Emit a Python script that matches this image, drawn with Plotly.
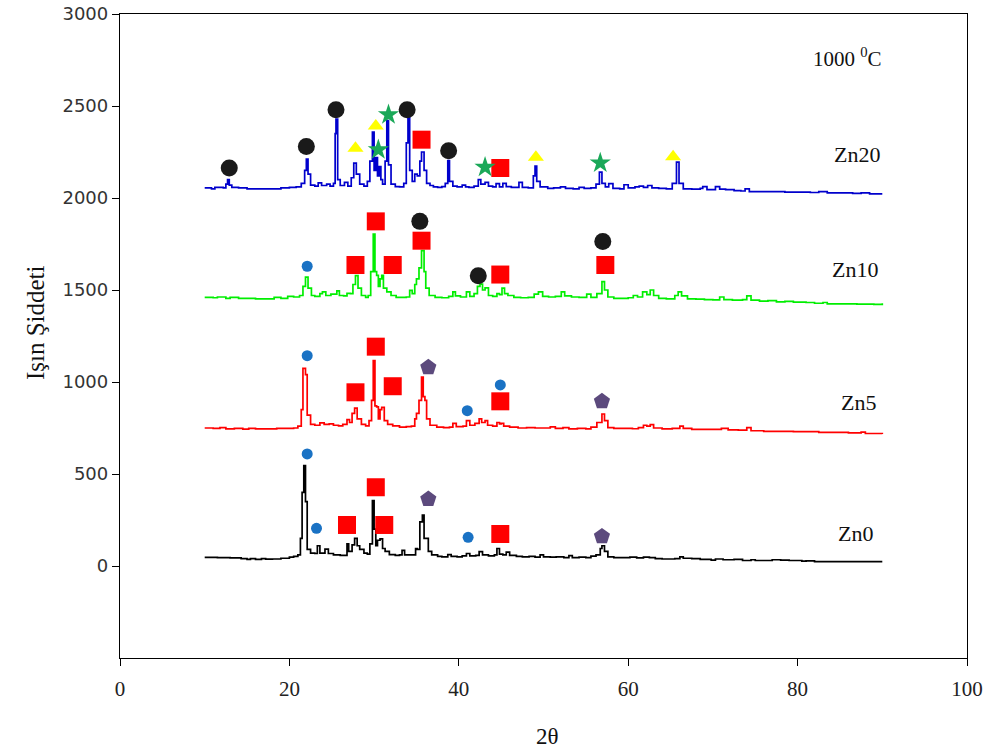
import plotly.graph_objects as go

# ---------------- data ----------------
zn20_x = [10.0,10.8,11.2,12.2,12.5,12.7,12.9,13.2,14.0,15.0,16.5,18.0,19.0,20.0,20.8,21.4,21.8,22.0,22.2,22.5,23.0,23.4,23.8,24.4,24.8,25.2,25.4,25.5,25.7,26.0,26.5,26.9,27.3,27.6,27.9,28.3,28.8,29.2,29.5,29.8,30.0,30.2,30.4,30.6,30.8,31.0,31.3,31.5,31.7,32.0,32.5,33.0,33.5,33.8,34.0,34.2,34.5,34.8,35.1,35.4,35.6,35.9,36.2,36.6,37.0,37.5,38.0,38.4,38.7,38.9,39.3,39.8,40.4,40.8,41.2,41.8,42.3,42.6,43.1,43.5,44.0,44.4,44.8,45.2,45.6,46.2,47.1,47.5,48.2,48.8,49.0,49.2,49.6,50.5,51.2,52.0,52.6,53.5,54.2,54.8,55.6,56.2,56.6,56.9,57.3,57.7,58.2,59.0,59.5,60.0,60.8,61.3,61.8,62.3,62.8,63.6,64.5,65.2,65.7,66.0,66.5,67.5,68.5,68.8,69.3,70.3,70.8,71.5,72.5,73.3,73.8,74.3,75.5,77.0,78.5,80.0,81.5,82.5,83.5,85.0,86.5,87.5,88.5,90.0]
zn20_y = [2055,2050,2058,2055,2075,2100,2070,2058,2055,2050,2050,2050,2055,2058,2060,2080,2150,2212,2130,2070,2065,2082,2068,2075,2065,2080,2350,2429,2100,2068,2085,2065,2110,2190,2130,2075,2065,2090,2200,2358,2150,2220,2120,2170,2100,2075,2200,2420,2180,2075,2062,2060,2080,2300,2451,2150,2090,2130,2120,2200,2250,2150,2080,2068,2060,2058,2062,2080,2203,2090,2065,2060,2070,2060,2058,2065,2100,2075,2085,2065,2060,2078,2060,2080,2062,2058,2085,2058,2055,2120,2174,2090,2060,2052,2055,2060,2052,2050,2058,2052,2055,2075,2141,2080,2060,2078,2052,2050,2072,2055,2060,2065,2058,2068,2055,2052,2050,2080,2195,2080,2050,2048,2052,2062,2045,2062,2048,2045,2040,2038,2050,2035,2035,2035,2032,2032,2030,2035,2028,2028,2025,2028,2022,2022]

zn10_x = [10.0,11.0,11.5,12.5,13.0,14.0,16.0,17.5,18.2,19.0,19.8,20.5,21.2,21.6,21.9,22.2,22.6,23.0,23.6,23.9,24.3,24.9,25.6,25.9,26.4,26.8,27.2,27.5,27.8,28.1,28.5,29.0,29.3,29.6,29.9,30.1,30.3,30.5,30.7,30.9,31.1,31.5,32.0,32.6,33.2,33.8,34.2,34.5,34.8,35.0,35.3,35.6,35.9,36.1,36.5,37.2,38.0,38.8,39.3,39.6,40.2,40.9,41.3,41.8,42.2,42.5,42.8,43.1,43.5,44.0,44.5,44.8,45.1,45.4,45.8,46.5,47.3,48.2,48.9,49.4,49.9,50.6,51.4,52.1,52.5,53.3,54.2,55.1,55.6,56.3,56.9,57.2,57.6,58.3,59.0,60.0,60.6,61.1,61.7,62.2,62.6,63.0,63.6,64.5,65.5,65.9,66.3,67.0,68.0,69.0,70.0,70.8,71.3,72.3,73.5,74.0,74.5,75.5,76.5,77.5,78.5,79.5,81.0,82.0,83.0,83.5,85.0,87.0,89.0,90.0]
zn10_y = [1460,1458,1462,1455,1460,1455,1452,1452,1460,1455,1465,1462,1470,1520,1570,1510,1470,1465,1480,1490,1470,1478,1495,1470,1468,1482,1480,1530,1578,1510,1470,1460,1470,1600,1804,1600,1580,1520,1560,1580,1510,1490,1470,1460,1460,1462,1498,1480,1530,1560,1620,1714,1600,1510,1470,1460,1458,1465,1490,1468,1462,1490,1465,1480,1520,1532,1500,1512,1470,1465,1480,1475,1510,1480,1470,1460,1458,1460,1478,1490,1465,1462,1465,1490,1468,1462,1460,1478,1460,1480,1545,1500,1462,1455,1455,1458,1470,1462,1490,1475,1500,1470,1455,1452,1470,1490,1468,1452,1450,1448,1446,1462,1448,1445,1448,1468,1445,1440,1442,1436,1438,1434,1432,1428,1432,1425,1425,1423,1422,1428]

zn5_x = [10.0,11.0,11.8,12.5,13.5,14.5,15.2,16.0,17.5,18.5,19.5,20.5,21.0,21.4,21.6,21.9,22.1,22.5,23.0,23.6,24.1,24.7,25.2,25.8,26.3,26.8,27.1,27.4,27.7,28.0,28.5,29.0,29.4,29.7,29.9,30.1,30.3,30.5,30.7,30.9,31.2,31.6,32.2,33.0,33.8,34.4,34.8,35.0,35.3,35.6,35.8,36.0,36.2,36.6,37.4,38.2,38.9,39.3,39.7,40.5,40.9,41.3,41.9,42.4,42.7,43.1,43.4,44.0,44.5,44.8,45.0,45.3,46.0,47.0,48.0,49.0,50.0,50.8,51.4,52.3,53.0,54.0,55.0,55.6,56.3,56.9,57.2,57.6,58.3,59.5,60.5,61.2,61.8,62.2,62.6,63.0,64.0,65.2,66.1,66.5,67.5,69.0,70.0,71.0,71.8,73.0,74.0,74.5,76.0,78.0,79.5,81.0,82.5,84.0,86.0,87.5,88.0,90.0]
zn5_y = [750,748,752,745,748,744,748,745,745,748,748,750,760,850,1074,1040,820,770,765,778,770,772,765,762,770,795,780,830,858,800,770,762,790,900,1116,870,865,800,850,862,790,770,762,755,758,760,800,830,900,1027,920,900,800,765,755,752,755,775,758,760,790,765,775,800,780,790,765,760,780,772,775,760,755,750,752,750,750,756,748,752,745,748,745,755,780,826,790,752,748,748,746,752,765,760,768,750,745,748,760,748,742,742,742,748,740,738,752,735,732,732,730,730,726,726,724,728,720,718]

zn0_x = [10.0,11.5,13.0,14.3,15.0,15.4,16.0,16.7,17.2,18.0,19.0,20.0,20.5,21.0,21.3,21.5,21.7,21.9,22.1,22.5,23.0,23.3,23.6,24.2,24.6,25.2,26.0,26.5,26.8,27.0,27.4,27.7,28.0,28.3,28.8,29.2,29.5,29.8,30.0,30.2,30.4,30.7,31.0,31.3,31.8,32.5,33.0,33.3,33.6,34.2,34.6,34.9,35.1,35.4,35.7,35.9,36.1,36.4,36.8,37.5,38.0,38.7,39.1,39.8,40.4,40.9,41.3,42.0,42.4,42.8,43.5,44.2,44.5,44.8,45.2,45.6,46.0,46.8,47.5,48.3,49.0,49.6,50.0,50.8,51.5,52.4,53.0,53.4,54.2,55.0,55.6,56.2,56.7,56.9,57.2,57.6,58.3,59.5,60.2,61.0,61.8,62.5,63.2,64.0,65.5,66.1,66.5,67.5,68.5,69.8,70.3,71.2,72.5,73.5,74.5,75.0,76.2,77.0,78.0,79.0,80.5,81.0,82.0,84.0,86.0,88.0,90.0]
zn0_y = [47,45,44,40,36,40,36,40,37,38,42,48,52,60,150,400,545,350,90,70,68,110,70,92,68,60,58,58,120,80,115,150,110,90,70,65,120,355,200,110,140,147,95,80,62,58,60,85,60,60,60,95,90,240,277,150,150,80,60,52,50,62,52,50,55,68,55,58,78,60,55,60,95,65,60,75,58,52,50,52,48,60,50,48,50,46,56,46,48,46,54,60,95,110,80,50,45,45,48,44,48,46,40,38,40,50,42,40,36,32,38,34,36,30,34,30,30,34,32,30,26,28,24,24,24,24,24]

# phase markers (2θ, intensity)
black_x = [12.9,22.0,25.5,33.9,38.8,35.4,42.3,57.0]
black_y = [2163,2280,2480,2480,2257,1873,1578,1763]
red_x = [35.6,44.9,27.8,30.2,32.2,35.6,44.9,57.3,27.8,30.2,32.2,44.9,26.8,30.2,31.2,44.9]
red_y = [2317,2163,1636,1873,1636,1768,1584,1636,944,1192,977,895,223,428,223,174]
yellow_x = [27.8,30.2,49.1,65.3]
yellow_y = [2270,2391,2221,2224]
green_x = [31.7,30.5,43.1,56.7]
green_y = [2453,2262,2167,2190]
blue_x = [22.1,22.1,41.0,44.9,22.1,23.2,41.1]
blue_y = [1629,1143,844,984,609,205,156]
purple_x = [36.4,56.9,36.4,56.9]
purple_y = [1080,895,364,161]

labels = ["Zn20", "Zn10", "Zn5", "Zn0"]
label_x = [87.0, 86.8, 87.2, 86.8]
label_y = [2239, 1614, 891, 174]

x_ticks = [0, 20, 40, 60, 80, 100]
y_ticks = [0, 500, 1000, 1500, 2000, 2500, 3000]

# ---------------- figure ----------------
fig = go.Figure()
series = [(zn20_x, zn20_y, "#0000cc"), (zn10_x, zn10_y, "#00ee00"),
          (zn5_x, zn5_y, "#ff0000"), (zn0_x, zn0_y, "#000000")]
for (xs, ys, c), name in zip(series, labels):
    fig.add_trace(go.Scatter(x=xs, y=ys, mode="lines", name=name,
                             line=dict(color=c, width=1.7, shape="hv"),
                             showlegend=False, hoverinfo="skip"))

markers = [
    (black_x, black_y, "circle", "#1a1a1a", 17),
    (red_x, red_y, "square", "#ff0000", 18),
    (yellow_x, yellow_y, "triangle-up", "#ffff00", 14),
    (green_x, green_y, "star", "#1aa858", 16),
    (blue_x, blue_y, "circle", "#1a72c4", 11),
    (purple_x, purple_y, "pentagon", "#5c4a7d", 17),
]
for xs, ys, sym, col, sz in markers:
    fig.add_trace(go.Scatter(x=xs, y=ys, mode="markers", showlegend=False,
                             marker=dict(symbol=sym, color=col, size=sz,
                                         line=dict(width=0)),
                             hoverinfo="skip"))

serif = "Liberation Serif"
for t, lx, ly in zip(labels, label_x, label_y):
    fig.add_annotation(x=lx, y=ly, text=t, showarrow=False, xanchor="center",
                       font=dict(family=serif, size=22, color="#111111"))
fig.add_annotation(x=85.9, y=2766, text="1000 <sup>0</sup>C", showarrow=False,
                   font=dict(family=serif, size=21, color="#111111"))

# axis titles
fig.add_annotation(xref="paper", yref="paper", x=0.505, y=0, yshift=-78,
                   text="2θ", showarrow=False, yanchor="middle",
                   font=dict(family=serif, size=23, color="#111111"))
fig.add_annotation(xref="paper", yref="paper", x=0, y=0.52, xshift=-85,
                   text="Işın Şiddeti", showarrow=False, textangle=-90,
                   xanchor="center", yanchor="middle",
                   font=dict(family=serif, size=25, color="#111111"))

fig.update_layout(
    width=992, height=753,
    margin=dict(l=120, r=25, t=14, b=95, autoexpand=False),
    paper_bgcolor="white", plot_bgcolor="white",
)
fig.update_xaxes(range=[0, 100], tickvals=x_ticks, showgrid=False, zeroline=False,
                 showline=True, linecolor="black", linewidth=1.3, mirror=True,
                 ticks="outside", ticklen=7, tickcolor="black", automargin=False,
                 ticklabelstandoff=5, ticklabeloverflow="allow",
                 tickfont=dict(family=serif, size=21, color="#222222"))
fig.update_yaxes(range=[-500, 3000], tickvals=y_ticks, showgrid=False, zeroline=False,
                 showline=True, linecolor="black", linewidth=1.3, mirror=True,
                 ticks="outside", ticklen=7, tickcolor="black", automargin=False,
                 ticklabeloverflow="allow",
                 tickfont=dict(family="DejaVu Sans", size=18, color="#333333"))

# remove the default page margin so the 992x753 figure fills the window exactly
fig.write_html("out.html", config={"displayModeBar": False},
               post_script="document.body.style.margin='0px';")
